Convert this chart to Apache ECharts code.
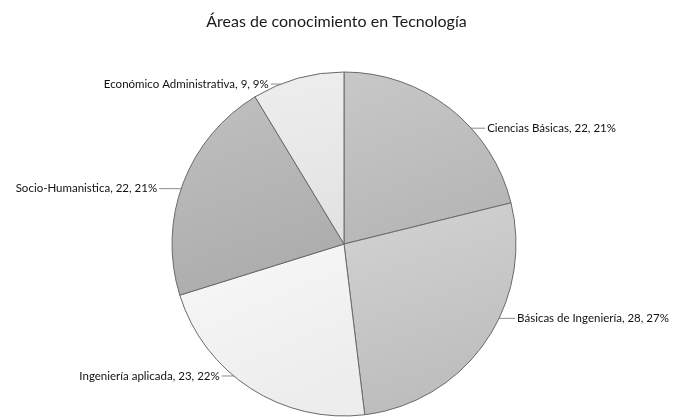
<!DOCTYPE html>
<html>
<head>
<meta charset="utf-8">
<script src="https://cdn.jsdelivr.net/npm/echarts@6/dist/echarts.min.js"></script>
<style>
  html, body { margin: 0; padding: 0; background: #ffffff; }
  #chart { width: 673px; height: 419px; }
</style>
</head>
<body>
<div id="chart"></div>
<script>
// Knowledge areas and number of courses in each
const categories = [
  'Ciencias Básicas',
  'Básicas de Ingeniería',
  'Ingeniería aplicada',
  'Socio-Humanística',
  'Económico Administrativa'
];
const values = [22, 28, 23, 22, 9];
const labelNames = [
  'Ciencias Básicas',
  'Básicas de Ingeniería',
  'Ingeniería aplicada',
  'Socio-Humanistica',
  'Económico Administrativa'
];
const sliceColors = [
  ['#c8c8c8', '#b6b6b6'],
  ['#d3d3d3', '#bcbcbc'],
  ['#f8f8f8', '#ededed'],
  ['#c0c0c0', '#acacac'],
  ['#eeeeee', '#e2e2e2']
];

const CENTER = [344, 244];
const RADIUS = 172;
// angular nudge (degrees, clockwise) of each label's anchor on the rim
const LABEL_SHIFT = [9.6, -9, 7, -2, -6];
// length of each horizontal leader line
const LEADER = [14, 16, 12, 22, 10];

const chart = echarts.init(document.getElementById('chart'), null, { renderer: 'canvas' });

const total = values.reduce((a, b) => a + b, 0);

const data = categories.map((name, i) => ({
  name: name,
  value: values[i],
  itemStyle: {
    color: new echarts.graphic.LinearGradient(0, 0, 0.4, 1, [
      { offset: 0, color: sliceColors[i][0] },
      { offset: 1, color: sliceColors[i][1] }
    ])
  }
}));

// Put each label beside the rim with a short horizontal leader line
function placeLabel(params) {
  const i = params.dataIndex;
  const pts = params.labelLinePoints;
  if (!pts) return {};
  const p = pts[0];
  // clockwise angle from 12 o'clock of the slice's middle
  let ang = Math.atan2(p[0] - CENTER[0], -(p[1] - CENTER[1]));
  ang += LABEL_SHIFT[i] * Math.PI / 180;
  const ax = CENTER[0] + RADIUS * Math.sin(ang);
  const ay = CENTER[1] - RADIUS * Math.cos(ang);
  const right = ax >= CENTER[0];
  const ex = right ? ax + LEADER[i] : ax - LEADER[i];
  // text is aligned left on the right side and right on the left side
  return {
    x: right ? ex + 2 : ex - 2,
    y: ay,
    labelLinePoints: [[ax, ay], [(ax + ex) / 2, ay], [ex, ay]]
  };
}

chart.setOption({
  backgroundColor: '#ffffff',
  animation: false,
  title: {
    text: 'Áreas de conocimiento en Tecnología',
    left: 'center',
    top: 9,
    textStyle: {
      fontFamily: 'Lato, "Open Sans", sans-serif',
      fontSize: 16,
      fontWeight: 'normal',
      color: '#1a1a1a'
    }
  },
  series: [{
    type: 'pie',
    center: CENTER,
    radius: RADIUS,
    startAngle: 90,
    clockwise: true,
    data: data,
    itemStyle: {
      borderColor: '#6a6a6a',
      borderWidth: 1
    },
    label: {
      show: true,
      position: 'outside',
      fontFamily: 'Lato, "Open Sans", sans-serif',
      fontSize: 11.5,
      color: '#111111',
      formatter: function (p) {
        const pct = Math.round(p.value / total * 100);
        return labelNames[p.dataIndex] + ', ' + p.value + ', ' + pct + '%';
      }
    },
    labelLine: {
      show: true,
      length: 6,
      length2: 10,
      lineStyle: { color: '#8a8a8a', width: 1 }
    },
    labelLayout: placeLabel,
    emphasis: { disabled: true }
  }]
});
</script>
</body>
</html>
